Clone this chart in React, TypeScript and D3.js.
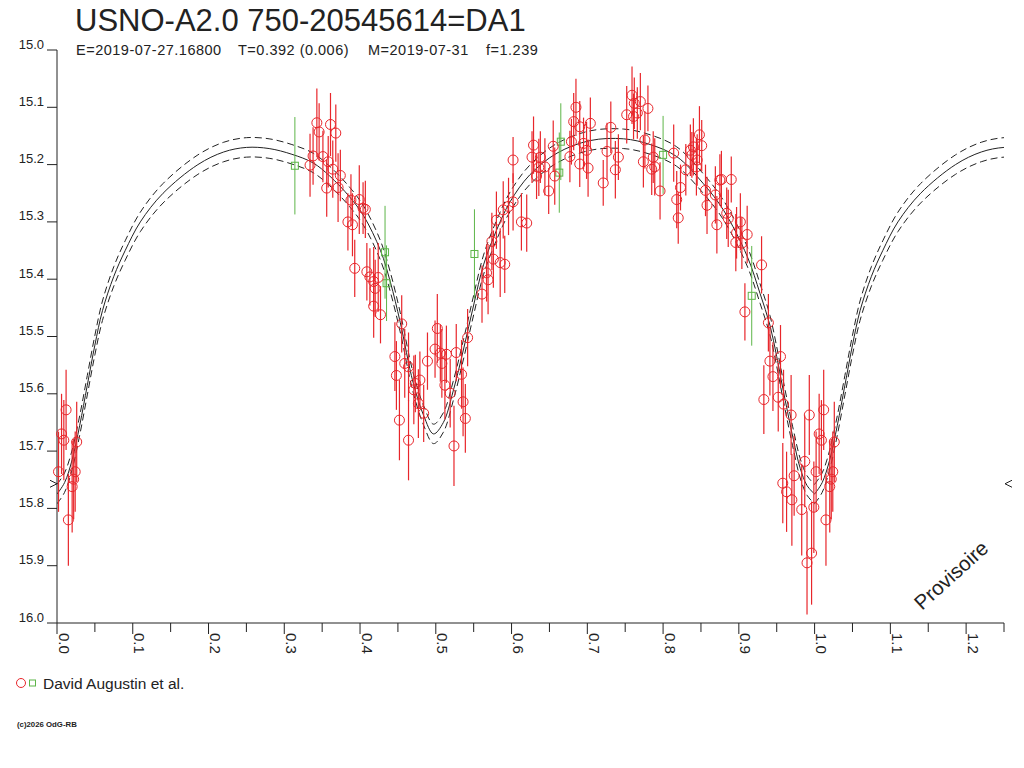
import * as d3 from "d3";

// light curve of USNO-A2.0 750-20545614 folded on the period, phase 0..1.25

const TITLE = "USNO-A2.0 750-20545614=DA1";
const SUBTITLE_PARTS = [
  "E=2019-07-27.16800",
  "T=0.392 (0.006)",
  "M=2019-07-31",
  "f=1.239",
];
const LEGEND_LABEL = "David Augustin et al.";
const COPYRIGHT = "(c)2026 OdG-RB";
const WATERMARK = "Provisoire";

const xTicks = [0, 0.1, 0.2, 0.3, 0.4, 0.5, 0.6, 0.7, 0.8, 0.9, 1.0, 1.1, 1.2];
const xMinorTicks = [0.05, 0.15, 0.25, 0.35, 0.45, 0.55, 0.65, 0.75, 0.85, 0.95, 1.05, 1.15, 1.25];
const yTicks = [15.0, 15.1, 15.2, 15.3, 15.4, 15.5, 15.6, 15.7, 15.8, 15.9, 16.0];

// fitted model (phase, magnitude)
const modelPhase = [
  0.0, 0.01, 0.02, 0.03, 0.04, 0.05, 0.06, 0.075, 0.09, 0.11, 0.14, 0.186, 0.22, 0.25,
  0.28, 0.31, 0.338, 0.36, 0.386, 0.405, 0.427, 0.44, 0.453, 0.47, 0.484, 0.497, 0.51,
  0.523, 0.537, 0.55, 0.563, 0.58, 0.598, 0.624, 0.66, 0.704, 0.748, 0.783, 0.818, 0.853,
  0.88, 0.911, 0.928, 0.941, 0.95, 0.958, 0.972, 0.981, 0.99, 1.0,
];
const modelMag = [
  15.775, 15.755, 15.715, 15.655, 15.585, 15.515, 15.455, 15.395, 15.35, 15.3, 15.25, 15.2,
  15.178, 15.17, 15.172, 15.182, 15.197, 15.22, 15.256, 15.29, 15.35, 15.405, 15.475, 15.58,
  15.638, 15.67, 15.65, 15.595, 15.52, 15.445, 15.375, 15.315, 15.265, 15.218, 15.18, 15.158,
  15.155, 15.165, 15.186, 15.233, 15.28, 15.36, 15.425, 15.48, 15.535, 15.59, 15.68, 15.73,
  15.76, 15.775,
];
const MODEL_SIGMA = 0.017;
const MIN_MARK = 15.757;

// [phase, mag, error]
const redObs: [number, number, number][] = [
  [0.334, 15.201, 0.055], [0.338, 15.185, 0.05], [0.343, 15.127, 0.06], [0.346, 15.143, 0.05],
  [0.351, 15.186, 0.045], [0.356, 15.241, 0.05], [0.358, 15.195, 0.045], [0.361, 15.13, 0.055],
  [0.364, 15.208, 0.05], [0.368, 15.145, 0.05], [0.371, 15.24, 0.06], [0.374, 15.219, 0.045],
  [0.384, 15.3, 0.05], [0.388, 15.262, 0.045], [0.39, 15.305, 0.055], [0.393, 15.381, 0.05],
  [0.399, 15.261, 0.06], [0.404, 15.276, 0.045], [0.407, 15.278, 0.05], [0.409, 15.387, 0.05],
  [0.413, 15.396, 0.05], [0.418, 15.404, 0.06], [0.42, 15.416, 0.05], [0.418, 15.447, 0.055],
  [0.424, 15.397, 0.06], [0.427, 15.462, 0.05],
  [0.446, 15.535, 0.06], [0.448, 15.568, 0.06], [0.452, 15.646, 0.07], [0.455, 15.478, 0.05],
  [0.459, 15.547, 0.06], [0.464, 15.553, 0.06], [0.464, 15.681, 0.07], [0.471, 15.593, 0.06],
  [0.473, 15.582, 0.05], [0.477, 15.617, 0.06], [0.479, 15.576, 0.05], [0.484, 15.634, 0.05],
  [0.489, 15.543, 0.05], [0.499, 15.522, 0.05], [0.502, 15.486, 0.06], [0.506, 15.529, 0.05],
  [0.508, 15.547, 0.06], [0.512, 15.585, 0.06], [0.514, 15.531, 0.05], [0.519, 15.599, 0.06],
  [0.524, 15.691, 0.07], [0.527, 15.528, 0.05], [0.534, 15.566, 0.06], [0.536, 15.614, 0.06],
  [0.539, 15.643, 0.06], [0.542, 15.502, 0.05], [0.561, 15.426, 0.05], [0.567, 15.389, 0.05],
  [0.569, 15.401, 0.06], [0.574, 15.334, 0.05], [0.576, 15.365, 0.05], [0.58, 15.297, 0.05],
  [0.585, 15.371, 0.06], [0.589, 15.279, 0.05], [0.591, 15.374, 0.05], [0.596, 15.273, 0.05],
  [0.602, 15.265, 0.05], [0.613, 15.3, 0.05], [0.62, 15.302, 0.05],
  [0.602, 15.192, 0.04], [0.627, 15.187, 0.045], [0.629, 15.166, 0.05], [0.633, 15.22, 0.04],
  [0.636, 15.205, 0.05], [0.638, 15.187, 0.045], [0.644, 15.204, 0.05], [0.649, 15.246, 0.04],
  [0.655, 15.168, 0.045], [0.657, 15.22, 0.05], [0.677, 15.186, 0.045], [0.679, 15.16, 0.04],
  [0.682, 15.125, 0.05], [0.685, 15.1, 0.05], [0.69, 15.134, 0.045], [0.69, 15.199, 0.04],
  [0.695, 15.163, 0.045], [0.699, 15.175, 0.05], [0.701, 15.206, 0.05], [0.704, 15.128, 0.045],
  [0.721, 15.232, 0.04], [0.726, 15.177, 0.05], [0.731, 15.135, 0.045], [0.737, 15.209, 0.05],
  [0.741, 15.187, 0.04], [0.752, 15.113, 0.05], [0.761, 15.116, 0.04], [0.759, 15.079, 0.05],
  [0.762, 15.093, 0.045], [0.766, 15.11, 0.045], [0.77, 15.09, 0.05], [0.774, 15.195, 0.045],
  [0.776, 15.157, 0.05], [0.78, 15.102, 0.04], [0.787, 15.187, 0.045], [0.789, 15.204, 0.05],
  [0.785, 15.208, 0.045], [0.796, 15.246, 0.05], [0.814, 15.18, 0.05], [0.818, 15.261, 0.05],
  [0.823, 15.24, 0.04], [0.82, 15.293, 0.045], [0.83, 15.209, 0.045], [0.836, 15.175, 0.045],
  [0.84, 15.169, 0.05], [0.838, 15.183, 0.04], [0.845, 15.192, 0.045], [0.848, 15.148, 0.05],
  [0.851, 15.167, 0.045], [0.844, 15.204, 0.05], [0.858, 15.271, 0.05], [0.856, 15.245, 0.045],
  [0.869, 15.253, 0.05], [0.875, 15.227, 0.045], [0.877, 15.226, 0.05], [0.871, 15.305, 0.05],
  [0.884, 15.285, 0.045], [0.886, 15.294, 0.05], [0.89, 15.226, 0.04], [0.896, 15.336, 0.05],
  [0.897, 15.319, 0.045], [0.902, 15.3, 0.05], [0.904, 15.337, 0.045], [0.911, 15.322, 0.05],
  [0.93, 15.375, 0.05], [0.908, 15.457, 0.05], [0.939, 15.476, 0.05], [0.941, 15.543, 0.06],
  [0.933, 15.61, 0.06], [0.945, 15.57, 0.06], [0.952, 15.606, 0.06], [0.955, 15.535, 0.055],
  [0.958, 15.756, 0.07], [0.959, 15.618, 0.06], [0.963, 15.771, 0.07], [0.969, 15.637, 0.07],
  [0.97, 15.785, 0.08], [0.973, 15.743, 0.07], [0.983, 15.802, 0.08], [0.987, 15.718, 0.08],
  [0.99, 15.895, 0.09], [0.993, 15.637, 0.07], [0.996, 15.878, 0.09], [0.999, 15.798, 0.08],
  [0.002, 15.736, 0.07], [0.006, 15.67, 0.07], [0.009, 15.681, 0.07], [0.012, 15.628, 0.07],
  [0.015, 15.82, 0.08], [0.02, 15.762, 0.08], [0.022, 15.749, 0.07], [0.024, 15.736, 0.07],
  [0.026, 15.684, 0.07],
];

const greenObs: [number, number, number][] = [
  [0.314, 15.202, 0.085], [0.433, 15.353, 0.081], [0.435, 15.407, 0.066], [0.551, 15.356, 0.078],
  [0.663, 15.214, 0.07], [0.665, 15.16, 0.067], [0.8, 15.183, 0.068], [0.917, 15.429, 0.087],
];

const RED = "#e8262b";
const GREEN = "#5db548";
const INK = "#222";
const FONT = "'Liberation Sans', Arial, sans-serif";

const App = () => {
  const x = d3.scaleLinear().domain([0, 1.25]).range([57, 1004]);
  const y = d3.scaleLinear().domain([15, 16]).range([50, 623]);
  const maxPhase = 1.25;
  const period = x(1) - x(0);

  const line = d3
    .line<[number, number]>()
    .x((d) => x(d[0]))
    .y((d) => y(d[1]))
    .curve(d3.curveCatmullRom.alpha(0.5));

  const mid = modelPhase.map((p, i) => [p, modelMag[i]] as [number, number]);
  const upper = mid.map(([p, m]) => [p, m - MODEL_SIGMA] as [number, number]);
  const lower = mid.map(([p, m]) => [p, m + MODEL_SIGMA] as [number, number]);

  // each observation is repeated one cycle later when it still fits the axis
  const copies = (p: number) => (p + 1 <= maxPhase ? [p, p + 1] : [p]);

  const xAxisY = y(16);
  const yAxisX = x(0);

  const curves = [0, period].map((dx) => (
    <g key={dx} transform={`translate(${dx},0)`} fill="none" stroke={INK} strokeWidth={1}>
      <path d={line(upper) ?? ""} strokeDasharray="7 4" />
      <path d={line(mid) ?? ""} />
      <path d={line(lower) ?? ""} strokeDasharray="7 4" />
    </g>
  ));

  return (
    <svg
      width={1024}
      height={768}
      style={{ position: "absolute", left: 0, top: 0, background: "#fff" }}
      fontFamily={FONT}
    >
      <defs>
        <clipPath id="plot">
          <rect x={x(0)} y={0} width={x(maxPhase) - x(0)} height={768} />
        </clipPath>
      </defs>

      <text x={75} y={30.5} fontSize={31} fill={INK}>
        {TITLE}
      </text>
      {SUBTITLE_PARTS.map((s, i) => (
        <text
          key={s}
          x={[76, 238, 368, 486][i]}
          y={54.5}
          fontSize={14.5}
          letterSpacing={0.5}
          fill={INK}
        >
          {s}
        </text>
      ))}

      {/* y axis */}
      <line x1={yAxisX} x2={yAxisX} y1={y(15)} y2={xAxisY} stroke={INK} />
      {yTicks.map((t) => (
        <g key={t}>
          <line x1={yAxisX - 10} x2={yAxisX} y1={y(t)} y2={y(t)} stroke={INK} />
          <text x={44} y={y(t) - 1.5} fontSize={13} textAnchor="end" fill={INK}>
            {t.toFixed(1)}
          </text>
        </g>
      ))}

      {/* x axis */}
      <line x1={x(0)} x2={x(maxPhase)} y1={xAxisY} y2={xAxisY} stroke={INK} />
      {xTicks.map((t) => (
        <g key={t}>
          <line x1={x(t)} x2={x(t)} y1={xAxisY} y2={xAxisY + 11} stroke={INK} />
          <text
            transform={`translate(${x(t) + 1.5},${xAxisY + 10}) rotate(90)`}
            fontSize={15}
            fill={INK}
          >
            {t.toFixed(1)}
          </text>
        </g>
      ))}
      {xMinorTicks.map((t) => (
        <line key={t} x1={x(t)} x2={x(t)} y1={xAxisY} y2={xAxisY + 9} stroke={INK} />
      ))}

      <g clipPath="url(#plot)">{curves}</g>

      {/* observations */}
      {greenObs.flatMap(([p, m, e], i) =>
        copies(p).map((pp) => (
          <g key={`g${i}-${pp}`} stroke={GREEN} fill="none">
            <line x1={x(pp)} x2={x(pp)} y1={y(m - e)} y2={y(m + e)} />
            <rect x={x(pp) - 3.5} y={y(m) - 3.5} width={7} height={7} />
          </g>
        ))
      )}
      {redObs.flatMap(([p, m, e], i) =>
        copies(p).map((pp) => (
          <g key={`r${i}-${pp}`} stroke={RED} fill="none">
            <line x1={x(pp)} x2={x(pp)} y1={y(m - e)} y2={y(m + e)} strokeWidth={1.2} />
            <circle cx={x(pp)} cy={y(m)} r={5} />
          </g>
        ))
      )}

      {/* extreme markers */}
      <path
        d={`M${yAxisX - 7},${y(MIN_MARK) - 3.5}L${yAxisX},${y(MIN_MARK)}L${yAxisX - 7},${y(MIN_MARK) + 3.5}`}
        fill="none"
        stroke={INK}
      />
      <path
        d={`M${x(maxPhase) + 8},${y(MIN_MARK) - 3.5}L${x(maxPhase) + 1},${y(MIN_MARK)}L${x(maxPhase) + 8},${y(MIN_MARK) + 3.5}`}
        fill="none"
        stroke={INK}
      />

      <text transform="translate(922,611) rotate(-42)" fontSize={20.5} fill={INK}>
        {WATERMARK}
      </text>

      {/* legend */}
      <circle cx={21} cy={683} r={4.5} fill="none" stroke={RED} />
      <rect x={29.5} y={680} width={6} height={6} fill="none" stroke={GREEN} />
      <text x={43} y={688.5} fontSize={15.5} fill={INK}>
        {LEGEND_LABEL}
      </text>

      <text x={17} y={727} fontSize={7.8} fontWeight="bold" fill={INK}>
        {COPYRIGHT}
      </text>
    </svg>
  );
};

export default App;
